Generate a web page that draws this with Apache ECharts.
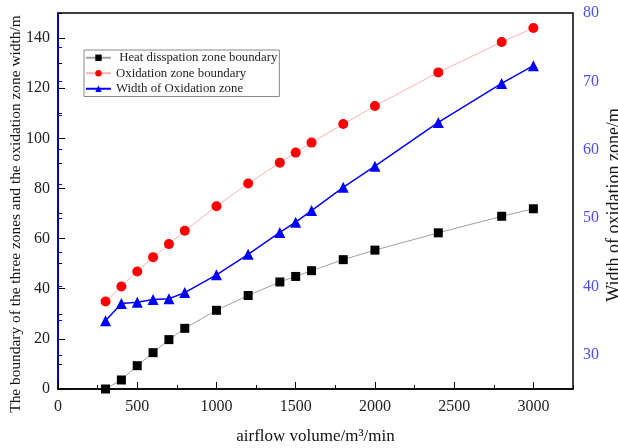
<!DOCTYPE html>
<html>
<head>
<meta charset="utf-8">
<script src="https://cdn.jsdelivr.net/npm/echarts@6/dist/echarts.min.js"></script>
<style>html,body{margin:0;padding:0;background:#fff}#c{width:618px;height:448px}</style>
</head>
<body>
<div id="c"></div>
<script>
const airflow = [300, 400, 500, 600, 700, 800, 1000, 1200, 1400, 1500, 1600, 1800, 2000, 2400, 2800, 3000];
const heatBoundary = [0, 3.6, 9.3, 14.5, 19.7, 24.2, 31.4, 37.3, 42.7, 44.9, 47.2, 51.6, 55.4, 62.3, 68.9, 71.9];
const oxidationBoundary = [34.9, 40.9, 46.9, 52.6, 57.8, 63.1, 72.9, 82.0, 90.3, 94.3, 98.3, 105.7, 112.9, 126.3, 138.4, 144.0];
const oxidationWidth = [35.0, 37.5, 37.7, 38.1, 38.2, 39.1, 41.7, 44.7, 47.9, 49.4, 51.1, 54.5, 57.6, 64.0, 69.7, 72.3];
const seriesNames = ['Heat disspation zone boundary', 'Oxidation zone boundary', 'Width of Oxidation zone'];
const xTicks = [0, 500, 1000, 1500, 2000, 2500, 3000];
const yLeftTicks = [0, 20, 40, 60, 80, 100, 120, 140];

const serif = 'Liberation Serif';
const chart = echarts.init(document.getElementById('c'), null, {renderer: 'canvas'});
const pair = (ys) => airflow.map((x, i) => [x, ys[i]]);
const plain = (v) => String(v);

chart.setOption({
  animation: false,
  backgroundColor: '#fff',
  grid: {left: 58, right: 45, top: 13, bottom: 59, show: true, borderColor: '#000', borderWidth: 1.5,
    containLabel: false, outerBoundsMode: 'none'},
  legend: {
    orient: 'vertical', left: 84, top: 50,
    borderColor: '#888', borderWidth: 1, padding: [0, 2, 0, 1], itemGap: 0,
    itemWidth: 25, itemHeight: 8,
    textStyle: {fontFamily: serif, fontSize: 12.8, color: '#222', lineHeight: 15.5},
    formatter: (n) => n === seriesNames[0] ? ' ' + n : n,
    data: seriesNames
  },
  xAxis: [
    {
      type: 'value', min: 0, max: 3250,
      name: 'airflow volume/m³/min', nameLocation: 'middle', nameGap: 39, nameMoveOverlap: false,
      nameTextStyle: {fontFamily: serif, fontSize: 17, color: '#111'},
      axisLine: {lineStyle: {color: '#000', width: 1.5}},
      axisTick: {inside: true, length: 7, customValues: xTicks, lineStyle: {color: '#000'}},
      axisLabel: {customValues: xTicks, formatter: plain, fontFamily: serif, fontSize: 16, color: '#222', margin: 10},
      splitLine: {show: false}
    },
    {
      type: 'value', min: 0, max: 3250, interval: 250, position: 'bottom',
      axisLine: {show: false},
      axisTick: {inside: true, length: 4, lineStyle: {color: '#000'}},
      axisLabel: {show: false}, splitLine: {show: false}
    }
  ],
  yAxis: [
    {
      type: 'value', min: 0, max: 150, position: 'left',
      name: 'The boundary of the three zones and the oxidation zone width/m',
      nameLocation: 'middle', nameGap: 35, nameMoveOverlap: false,
      nameTextStyle: {fontFamily: serif, fontSize: 15.4, color: '#111', padding: [0, 26, 0, 0]},
      axisLine: {show: true, lineStyle: {color: '#000', width: 1.5}},
      axisTick: {inside: true, length: 7, customValues: yLeftTicks, lineStyle: {color: '#000'}},
      axisLabel: {customValues: yLeftTicks, formatter: plain, fontFamily: serif, fontSize: 16, color: '#222', margin: 8},
      splitLine: {show: false}
    },
    {
      type: 'value', min: 25, max: 80, interval: 5, position: 'right',
      name: 'Width of oxidation zone/m', nameLocation: 'middle', nameGap: 32, nameRotate: 90, nameMoveOverlap: false,
      nameTextStyle: {fontFamily: serif, fontSize: 18, color: '#111', padding: [0, 8, 0, 0]},
      axisLine: {show: true, lineStyle: {color: '#0000ff', width: 1.5}},
      axisTick: {inside: false, length: 4, lineStyle: {color: '#0000ff'}},
      axisLabel: {fontFamily: serif, fontSize: 16, color: '#4d4dff', margin: 10,
        formatter: (v) => v % 10 === 0 ? String(v) : ''},
      splitLine: {show: false}
    },
    {
      type: 'value', min: 0, max: 150, interval: 10, position: 'left',
      axisLine: {show: false},
      axisTick: {inside: true, length: 4, lineStyle: {color: '#000'}},
      axisLabel: {show: false}, splitLine: {show: false}
    }
  ],
  series: [
    {
      name: seriesNames[0], type: 'line', xAxisIndex: 0, yAxisIndex: 0,
      data: pair(heatBoundary), symbol: 'rect', symbolSize: 9,
      lineStyle: {color: '#a0a0a0', width: 1}, itemStyle: {color: '#000'}
    },
    {
      name: seriesNames[1], type: 'line', xAxisIndex: 0, yAxisIndex: 0,
      data: pair(oxidationBoundary), symbol: 'circle', symbolSize: 10,
      lineStyle: {color: '#ffb0b0', width: 1}, itemStyle: {color: '#ff0000'}
    },
    {
      name: seriesNames[2], type: 'line', xAxisIndex: 0, yAxisIndex: 1,
      data: pair(oxidationWidth), symbol: 'triangle', symbolSize: 11,
      lineStyle: {color: '#0000ff', width: 1.5}, itemStyle: {color: '#0000ff'}
    }
  ]
});
</script>
</body>
</html>
